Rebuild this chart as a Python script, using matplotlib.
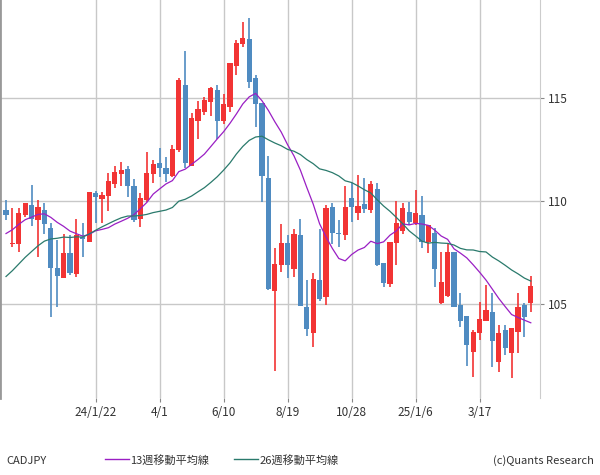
import matplotlib
matplotlib.use("Agg")
import matplotlib.pyplot as plt
import numpy as np
import pandas as pd
from matplotlib.lines import Line2D

plt.rcParams["font.family"] = ["Noto Sans CJK JP", "DejaVu Sans"]

start_date = "2023-10-16"
opens = [109.56,107.91,107.91,109.32,109.81,109.08,109.56,108.69,106.75,106.26,107.48,106.46,108.25,108.01,110.39,110.10,110.24,110.83,111.31,111.55,110.73,109.13,110.05,111.31,111.84,111.60,111.21,112.48,115.63,111.70,113.88,114.32,114.81,115.39,113.88,114.56,116.55,117.62,117.86,115.97,114.76,111.12,105.63,106.89,107.96,106.70,108.35,104.85,103.59,106.17,105.34,109.71,108.45,108.35,110.15,109.42,109.85,109.56,110.58,106.99,105.97,107.96,108.54,109.47,108.93,109.32,108.01,108.45,105.05,105.39,107.52,104.95,104.42,102.67,103.59,104.17,104.61,102.19,103.74,102.62,103.64,104.95,105.05]
highs = [110.05,109.66,109.66,109.90,110.78,110.05,109.90,108.93,108.11,108.40,108.35,109.13,108.93,110.44,110.49,110.44,111.36,111.70,111.89,111.70,111.07,110.39,112.38,111.99,112.57,112.14,112.72,115.97,117.28,114.27,114.85,115.05,115.53,115.63,115.19,116.70,117.81,118.68,118.88,116.12,114.76,112.18,107.72,108.88,108.35,108.64,109.13,106.17,106.50,108.64,109.81,109.90,109.08,110.73,110.87,111.26,111.12,110.97,110.87,106.99,108.01,110.00,109.90,109.95,110.53,110.24,108.83,108.69,107.52,107.96,107.52,105.53,104.42,103.74,105.10,105.92,105.53,103.98,103.98,103.83,105.53,105.05,106.36]
lows = [109.08,107.77,107.52,109.22,108.79,107.28,108.40,104.37,104.85,106.26,106.41,106.31,107.28,108.01,108.93,108.93,109.51,110.63,110.73,110.19,108.98,108.74,109.95,110.87,111.17,110.92,111.17,112.38,111.60,111.70,113.01,114.17,114.12,113.01,113.74,114.32,116.12,117.47,115.48,113.59,109.95,105.68,101.75,106.55,106.26,106.31,104.90,103.45,102.91,105.15,104.95,107.91,107.77,108.11,108.98,109.08,109.42,109.42,106.84,105.83,105.83,106.89,108.40,108.83,108.83,107.72,107.48,105.83,105.00,105.34,104.85,103.88,101.99,101.46,103.25,104.17,101.94,101.70,102.52,101.41,102.62,103.40,104.61]
closes = [109.32,107.91,109.42,109.90,109.13,109.71,108.88,106.75,106.36,107.48,106.50,108.35,108.16,110.44,110.19,110.29,110.97,111.41,111.50,110.73,109.08,110.15,111.36,111.80,111.60,111.31,112.52,115.87,111.84,114.03,114.47,114.90,115.48,113.88,114.71,116.70,117.67,117.91,115.78,114.71,111.21,105.73,106.94,107.96,106.89,108.40,104.90,103.79,106.21,105.24,109.66,108.45,108.40,109.71,109.71,109.76,109.61,110.83,106.89,106.02,108.01,108.93,109.66,108.98,109.42,108.01,108.83,106.70,106.07,107.52,104.85,104.17,103.01,103.64,104.27,104.71,103.20,103.59,102.86,103.83,104.85,104.37,105.87]
# weekly closes before the visible window (for moving-average warm-up)
prior_closes = [100.5,101.0,101.5,101.8,102.5,103.0,104.0,105.5,106.0,107.0,107.5,108.5,106.5,105.5,106.0,107.0,107.5,108.0,108.5,109.0,109.5,110.0,109.5,110.0,109.7]
tick_idx = [14,24,34,44,54,64,74]
tick_labels = ["24/1/22","4/1","6/10","8/19","10/28","25/1/6","3/17"]
y_ticks = [105,110,115]

n = len(closes)
allc = pd.Series(prior_closes + closes)
ma13 = allc.rolling(13).mean().values[len(prior_closes):]
ma26 = allc.rolling(26).mean().values[len(prior_closes):]

RED = "#f23434"; BLUE = "#4f8bc1"; PURPLE = "#9a1fc4"; TEAL = "#2a7a6c"

fig = plt.figure(figsize=(6, 4.75), dpi=100)
ax = fig.add_axes([0, 0.162, 0.9, 0.838])
x = np.arange(n)
for i in range(n):
    o, h, l, c = opens[i], highs[i], lows[i], closes[i]
    col = RED if c >= o else BLUE
    ax.vlines(i, l, h, color=col, lw=1.2, zorder=3)
    ax.bar(i, max(abs(c - o), 0.05), bottom=min(o, c), width=0.8, color=col, zorder=3, linewidth=0)
ax.plot(x, ma13, color=PURPLE, lw=0.9, zorder=4)
ax.plot(x, ma26, color=TEAL, lw=0.9, zorder=4)

ax.set_xlim(-0.94, 83.44)
ax.set_ylim(100.44, 119.76)
ax.set_xticks(tick_idx)
ax.set_xticklabels(tick_labels, fontsize=8.5, color="#333333")
ax.set_yticks(y_ticks)
ax.set_yticklabels([str(v) for v in y_ticks], fontsize=8.5, color="#333333")
ax.yaxis.tick_right()
ax.tick_params(axis="both", length=3, color="#888888", pad=3)
ax.grid(True, color="#c8c8c8", lw=1)
ax.set_axisbelow(True)
for s in ["top", "bottom"]:
    ax.spines[s].set_visible(False)
ax.spines["left"].set_color("#999999"); ax.spines["left"].set_linewidth(2)
ax.spines["right"].set_color("#cccccc")

fig.text(0.01, 0.02, "CADJPY", fontsize=8, color="#333333", va="bottom")
fig.add_artist(Line2D([0.175, 0.215], [0.033, 0.033], color=PURPLE, lw=1, transform=fig.transFigure))
fig.text(0.217, 0.02, "13週移動平均線", fontsize=8, color="#333333", va="bottom")
fig.add_artist(Line2D([0.39, 0.43], [0.033, 0.033], color=TEAL, lw=1, transform=fig.transFigure))
fig.text(0.432, 0.02, "26週移動平均線", fontsize=8, color="#333333", va="bottom")
fig.text(0.99, 0.02, "(c)Quants Research", fontsize=8, color="#333333", va="bottom", ha="right")

fig.savefig("out.png", dpi=100)
